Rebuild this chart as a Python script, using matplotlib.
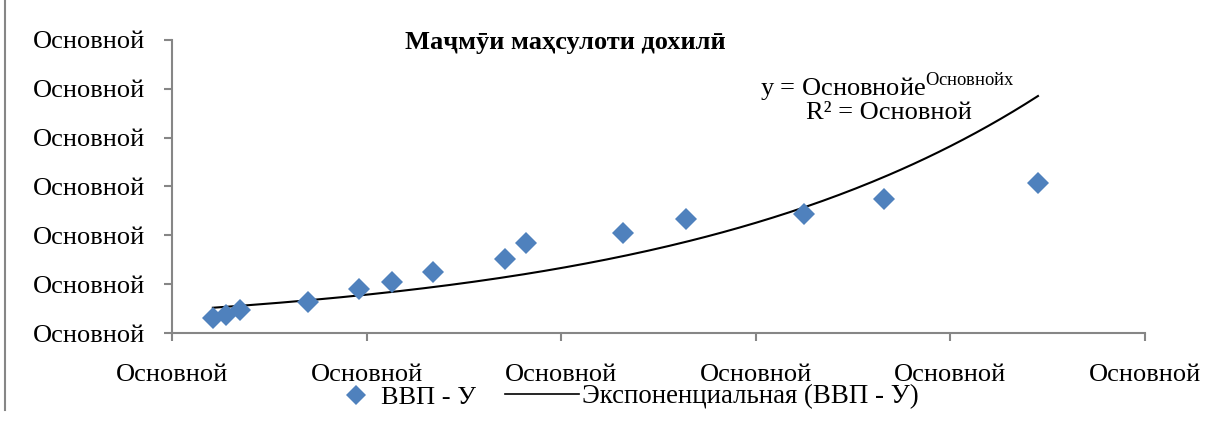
import matplotlib
matplotlib.use('Agg')
import matplotlib.pyplot as plt
from matplotlib.lines import Line2D
import numpy as np

plt.rcParams['font.family'] = ['Liberation Serif', 'DejaVu Serif']
plt.rcParams['mathtext.fontset'] = 'custom'
plt.rcParams['mathtext.rm'] = 'Liberation Serif'

# data (axis units)
gdp_x = [0.21, 0.28, 0.35, 0.70, 0.96, 1.13, 1.34, 1.71, 1.82, 2.32, 2.64, 3.25, 3.66, 4.45]
gdp_y = [0.31, 0.36, 0.47, 0.64, 0.90, 1.05, 1.25, 1.52, 1.84, 2.05, 2.33, 2.44, 2.75, 3.07]
trend_a = 0.463
trend_b = 0.528
x_ticks = [0, 1, 2, 3, 4, 5]
y_ticks = [0, 1, 2, 3, 4, 5, 6]
tick_label = 'Основной'
title = 'Маҷмӯи маҳсулоти дохилӣ'
series_name = 'ВВП - У'
trend_name = 'Экспоненциальная (ВВП - У)'

W, H = 1225, 423
fig = plt.figure(figsize=(W / 100, H / 100), dpi=100)
ax = fig.add_axes([172 / W, 1 - 333 / H, (1145 - 172) / W, (333 - 40) / H])

grey = '#868686'
blue = '#4F81BD'
fs = 19

ax.plot(gdp_x, gdp_y, 'D', color=blue, markersize=11, markeredgewidth=0, zorder=3)
xt = np.linspace(min(gdp_x), max(gdp_x), 200)
ax.plot(xt, trend_a * np.exp(trend_b * xt), color='black', lw=1.5, zorder=2)

ax.set_xlim(0, 5)
ax.set_ylim(0, 6)
ax.set_xticks(x_ticks)
ax.set_yticks(y_ticks)
ax.set_xticklabels([tick_label] * len(x_ticks))
ax.set_yticklabels([tick_label] * len(y_ticks))
ax.tick_params(axis='both', direction='out', length=6, width=1.5, color=grey,
               labelsize=fs)
ax.tick_params(axis='y', pad=13)
ax.tick_params(axis='x', pad=16)
for s in ['top', 'right']:
    ax.spines[s].set_visible(False)
for s in ['left', 'bottom']:
    ax.spines[s].set_color(grey)
    ax.spines[s].set_linewidth(1.5)

fig.text(565 / W, 1 - 42 / H, title, ha='center', va='center',
         fontsize=fs, fontweight='bold')

fig.text(887 / W, 1 - 87 / H, 'y = Основнойe$^{\\mathrm{Основнойx}}$', ha='center', va='center',
         fontsize=fs)
fig.text(889 / W, 1 - 113 / H, 'R² = Основной', ha='center', va='center', fontsize=fs)

fig.legend([Line2D([], [], marker='D', color=blue, ls='none', markersize=10, markeredgewidth=0)],
           [series_name], loc='center left', bbox_to_anchor=(343 / W, 1 - 397 / H),
           frameon=False, fontsize=fs, handlelength=1.0, handletextpad=0.45,
           borderaxespad=0, borderpad=0)
fig.legend([Line2D([], [], color='black', lw=1.2)], [trend_name], loc='center left',
           bbox_to_anchor=(505 / W, 1 - 397 / H), frameon=False, fontsize=fs + 0.4,
           handlelength=2.75, handletextpad=0.1, borderaxespad=0, borderpad=0)

# left border line of the page frame
fig.add_artist(Line2D([5 / W, 5 / W], [1 - 410 / H, 1], color=grey, lw=1.5))

fig.savefig('out.png', dpi=100)
